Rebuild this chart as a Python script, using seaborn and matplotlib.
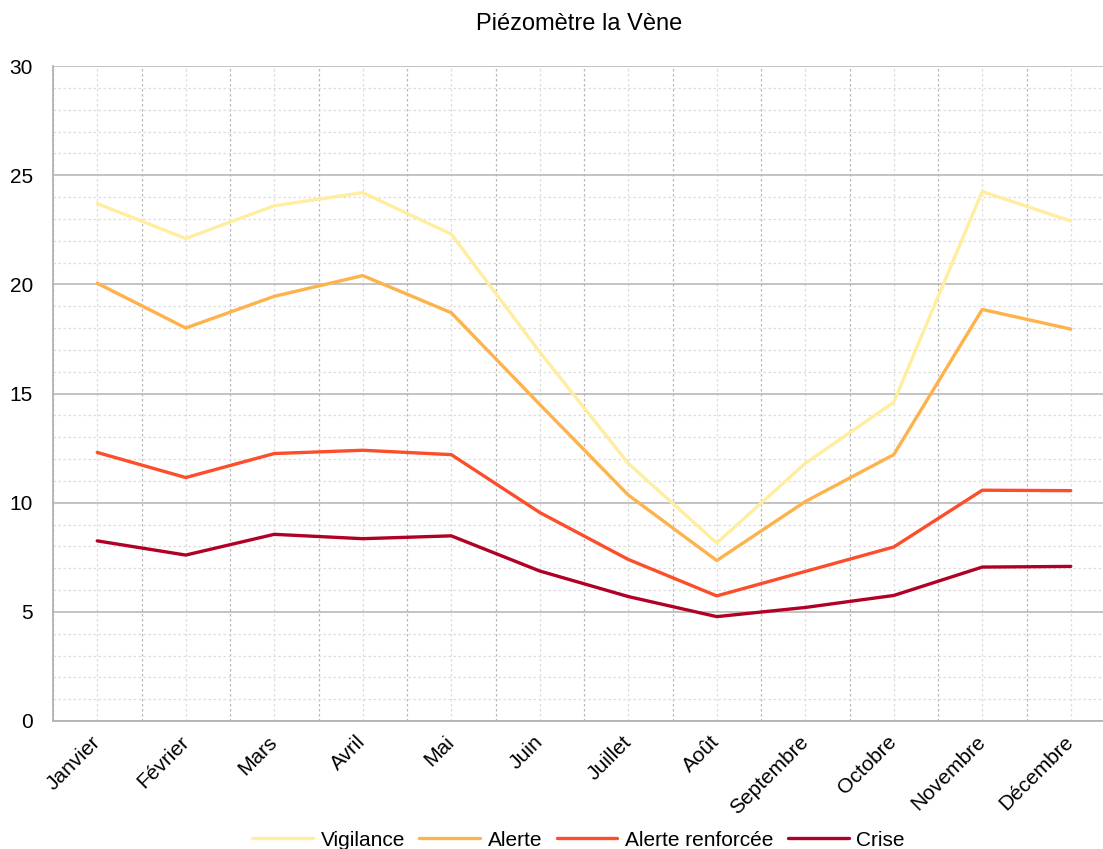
import matplotlib
matplotlib.use("Agg")
import matplotlib.pyplot as plt
import seaborn as sns
import pandas as pd
import numpy as np
from matplotlib.ticker import MultipleLocator, FixedLocator

months = ["Janvier", "Février", "Mars", "Avril", "Mai", "Juin", "Juillet",
          "Août", "Septembre", "Octobre", "Novembre", "Décembre"]
vigilance = [23.7, 22.1, 23.6, 24.2, 22.3, 16.9, 11.8, 8.15, 11.8, 14.6, 24.25, 22.9]
alerte = [20.05, 18.0, 19.45, 20.4, 18.7, 14.5, 10.35, 7.35, 10.05, 12.2, 18.85, 17.95]
alerte_renforcee = [12.3, 11.15, 12.25, 12.4, 12.2, 9.55, 7.4, 5.73, 6.85, 7.97, 10.57, 10.55]
crise = [8.25, 7.6, 8.55, 8.35, 8.48, 6.87, 5.7, 4.78, 5.2, 5.75, 7.05, 7.08]

series = {
    "Vigilance": vigilance,
    "Alerte": alerte,
    "Alerte renforcée": alerte_renforcee,
    "Crise": crise,
}
colors = ["#ffeda0", "#feb24c", "#fc4e2a", "#b10026"]

rows = []
for name, vals in series.items():
    for i, v in enumerate(vals):
        rows.append({"idx": i, "valeur": v, "serie": name})
df = pd.DataFrame(rows)

sns.set_style("white")
plt.rcParams["font.family"] = ["Liberation Sans", "DejaVu Sans"]
plt.rcParams["text.color"] = "black"
plt.rcParams["xtick.color"] = "black"
plt.rcParams["ytick.color"] = "black"

fig = plt.figure(figsize=(11.03, 8.49), dpi=100)
ax = fig.add_axes([53 / 1103, 128 / 849, 1062 / 1103, 655 / 849])

sns.lineplot(data=df, x="idx", y="valeur", hue="serie", palette=colors,
             linewidth=2.4, ax=ax, legend=True)

ax.set_xlim(-0.5, 11.5)
ax.set_ylim(0, 30)
ax.yaxis.set_major_locator(MultipleLocator(5))
ax.yaxis.set_minor_locator(MultipleLocator(1))
ax.xaxis.set_major_locator(FixedLocator(np.arange(12)))
ax.xaxis.set_minor_locator(FixedLocator(np.arange(-0.5, 12, 1)))
ax.set_xticklabels(months, rotation=45, ha="right", va="center",
                   rotation_mode="anchor", fontsize=15, color="black")
ax.tick_params(axis="y", labelsize=15, length=7.2, color="#b3b3b3", labelcolor="black",
               width=1.2, pad=7.2)
ax.tick_params(axis="x", which="both", length=0, pad=13, labelcolor="black")
ax.tick_params(axis="y", which="minor", length=0)

ax.grid(True, axis="y", which="major", color="#b3b3b3", linewidth=1.1, linestyle="-")
ax.grid(True, axis="y", which="minor", color="#dddddd", linewidth=0.9, linestyle=(0, (2, 2)))
ax.grid(True, axis="x", which="minor", color="#b8b8b8", linewidth=0.9, linestyle=(0, (2, 2)))
ax.grid(True, axis="x", which="major", color="#dddddd", linewidth=0.9, linestyle=(0, (2, 2)))
ax.set_axisbelow(True)

for s in ["top", "right"]:
    ax.spines[s].set_visible(False)
for s in ["left", "bottom"]:
    ax.spines[s].set_color("#b3b3b3")
    ax.spines[s].set_linewidth(1.3)

ax.set_xlabel("")
ax.set_ylabel("")
fig.text(579 / 1103, 1 - 24 / 849, "Piézomètre la Vène", ha="center", va="center",
         fontsize=17, color="black")

handles, labels = ax.get_legend_handles_labels()
leg = ax.legend(handles, labels, loc="center", bbox_to_anchor=(578.5 / 1103, 1 - 840 / 849),
                bbox_transform=fig.transFigure, ncol=4, frameon=False, fontsize=15,
                handlelength=2.9, handletextpad=0.38, columnspacing=0.7, borderpad=0)
for t in leg.get_texts():
    t.set_color("black")

fig.savefig("out.png", dpi=100)
